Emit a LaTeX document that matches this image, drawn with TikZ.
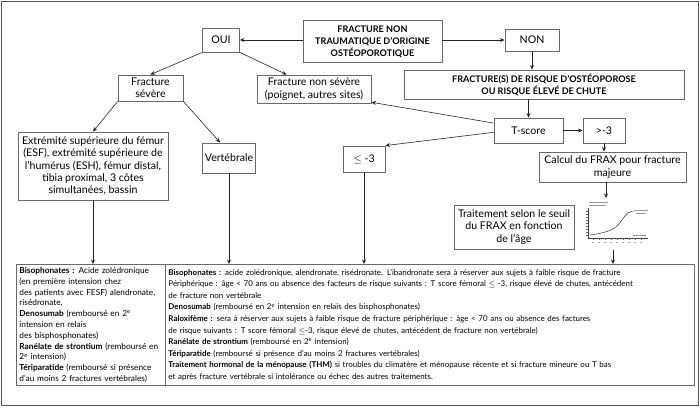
\documentclass[tikz,border=0pt]{standalone}
\usepackage{fontspec}
\setmainfont{Lato}
\usetikzlibrary{arrows.meta,positioning,calc}
\definecolor{framegrey}{RGB}{85,85,85}
\definecolor{boxgrey}{RGB}{105,105,105}

\begin{document}
\begin{tikzpicture}[x=1pt, y=-1pt,
  every node/.style={font=\fontsize{10.6}{12.4}\selectfont},
  box/.style={draw=boxgrey, line width=0.9pt, inner sep=2pt, align=center},
  hdr/.style={box, font=\fontsize{9.1}{12}\selectfont\bfseries},
  txtbox/.style={draw=boxgrey, line width=0.9pt, anchor=north west, align=left, inner xsep=3pt, inner ysep=2pt},
  arr/.style={-{Stealth[length=4.5pt,width=4pt]}, line width=0.6pt, black!85},
  ln/.style={line width=0.6pt, black!85}]
\useasboundingbox (0,0) rectangle (700,407);
\draw[framegrey, line width=1.3pt] (1.5,1.5) rectangle (698.5,405.5);

% top of the tree
\node[hdr, minimum width=139pt, minimum height=42pt] (top) at (372.5,41.5) {FRACTURE NON\\TRAUMATIQUE D’ORIGINE\\OSTÉOPOROTIQUE};
\node[box, minimum width=37pt, minimum height=24pt] (oui) at (221,40) {OUI};
\node[box, minimum width=54pt, minimum height=22pt] (non) at (532,40) {NON};
\node[hdr, minimum width=280pt, minimum height=29pt] (risk) at (544,84.5) {FRACTURE(S) DE RISQUE D’OSTÉOPOROSE\\OU RISQUE ÉLEVÉ DE CHUTE};

% OUI branch
\node[box, minimum width=65pt, minimum height=26pt] (sev) at (150.5,88) {Fracture\\sévère};
\node[box, minimum width=114pt, minimum height=28pt] (nonsev) at (314,89) {Fracture non sévère\\(poignet, autres sites)};
\node[box, minimum width=150pt, minimum height=68pt] (esf) at (93,166) {Extrémité supérieure du fémur\\(ESF), extrémité supérieure de\\l’humérus (ESH), fémur distal,\\tibia proximal, 3 côtes\\simultanées, bassin};
\node[box, minimum width=52pt, minimum height=30pt] (vert) at (229,158) {Vertébrale};

% NON branch
\node[box, minimum width=69pt, minimum height=25pt] (tscore) at (528.5,130.5) {T-score};
\node[box, minimum width=42pt, minimum height=25pt] (gt) at (604,130.5) {>-3};
\node[box, minimum width=42pt, minimum height=26pt] (le) at (364,159) {$\leq$ -3};
\node[box, minimum width=147pt, minimum height=30pt] (frax) at (612.5,167) {Calcul du FRAX pour fracture\\majeure};
\node[box, minimum width=120pt, minimum height=44pt] (trt) at (514,227) {Traitement selon le seuil\\du FRAX en fonction\\de l’âge};

% small FRAX curve
\coordinate (chtop) at (606,198);
\coordinate (chbot) at (613,250);
\draw[black!75, line width=0.4pt] (588,208) -- (588,238) -- (648,238);
\foreach \y in {211,214,...,235} \draw[black!60, line width=0.3pt] (586,\y) -- (588,\y);
\foreach \x in {593,599,...,645} {
  \draw[black!60, line width=0.3pt] (\x,238) -- (\x,240);
  \draw[black!35, line width=0.8pt] (\x-1.2,242.5) -- (\x+1.2,242.5);
}
\draw[black!80, line width=0.5pt] (590,235) .. controls (604,233) and (612,231) .. (618,225) .. controls (624,218) and (626,212) .. (633,211);
\draw[black!40, line width=0.9pt] (589,202.5) -- (608,202.5) (589,205) -- (606,205);
\draw[black!40, line width=0.9pt] (634,210.5) -- (648,210.5) (636,213) -- (646,213);
\draw[black!40, line width=0.9pt] (633,235.5) -- (646,235.5);

% treatment boxes
\node[txtbox, minimum width=149pt, minimum height=121pt, text width=143pt,
  font=\fontsize{8.3}{10.8}\selectfont] (bl) at (16,264)
  {\textbf{Bisophonates :} Acide zolédronique\\(en première intension chez\\des patients avec FESF) alendronate,\\risédronate,\\\textbf{Denosumab} (remboursé en 2\textsuperscript{e}\\intension en relais\\des bisphosphonates)\\\textbf{Ranélate de strontium} (remboursé en\\2\textsuperscript{e} intension)\\\textbf{Tériparatide} (remboursé si présence\\d’au moins 2 fractures vertébrales)};
\node[txtbox, minimum width=529pt, minimum height=121pt, text width=523pt,
  font=\fontsize{7.95}{11.6}\selectfont] (br) at (165,264)
  {\textbf{Bisophonates :} acide zolédronique, alendronate, risédronate. L’ibandronate sera à réserver aux sujets à faible risque de fracture\\
   Périphérique : âge < 70 ans ou absence des facteurs de risque suivants : T score fémoral $\leq$ -3, risque élevé de chutes, antécédent\\
   de fracture non vertébrale\\
   \textbf{Denosumab} (remboursé en 2\textsuperscript{e} intension en relais des bisphosphonates)\\
   \textbf{Raloxifème :} sera à réserver aux sujets à faible risque de fracture périphérique : âge < 70 ans ou absence des factures\\
   de risque suivants : T score fémoral $\leq$-3, risque élevé de chutes, antécédent de fracture non vertébrale)\\
   \textbf{Ranélate de strontium} (remboursé en 2\textsuperscript{e} intension)\\
   \textbf{Tériparatide} (remboursé si présence d’au moins 2 fractures vertébrales)\\
   \textbf{Traitement hormonal de la ménopause (THM)} si troubles du climatère et ménopause récente et si fracture mineure ou T bas\\
   et après fracture vertébrale si intolérance ou échec des autres traitements.};

% connectors
\draw[arr] (top.west |- oui.east) -- (oui.east);
\draw[arr] (top.east |- non.west) -- (non.west);
\draw[arr] (non.south) -- (non.south |- risk.north);
\draw[arr] (oui.south west) -- (sev.north);
\draw[arr] (oui.south east) -- ($(nonsev.north west)+(30,0)$);
\draw[arr] (sev.south west) -- (esf.north);
\draw[arr] (sev.south east) -- (vert.120);
\draw[arr] (tscore.north |- risk.south) -- (tscore.north);
\draw[arr] (tscore.168) -- (nonsev.-13);
\draw[arr] (tscore.183) -- (le.north east);
\draw[arr] (tscore.east) -- (gt.west);
\draw[arr] (gt.south) -- (gt.south |- frax.north);
\draw[arr] (frax.south -| chtop) -- (chtop);
\draw[arr] (esf.south) -- (esf.south |- bl.north);
\draw[arr] (vert.south) -- (vert.south |- br.north);
\draw[arr] (le.south) -- (le.south |- br.north);
\draw[arr] (chbot) -- (chbot |- br.north);
\end{tikzpicture}
\end{document}
